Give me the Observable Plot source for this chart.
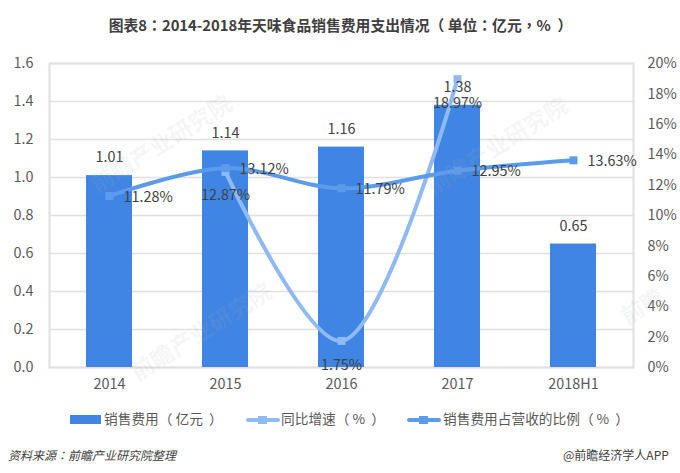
<!DOCTYPE html>
<html><head><meta charset="utf-8">
<script src="https://cdn.jsdelivr.net/npm/d3@7"></script>
<script src="https://cdn.jsdelivr.net/npm/@observablehq/plot@0.6"></script>
<style>
html,body{margin:0;padding:0;background:#fff;overflow:hidden}
body{width:680px;height:473px;position:relative;font-family:"Noto Sans CJK SC","Noto Sans",sans-serif;color:#595959}
#title{height:50px;line-height:49px;text-align:center;font-size:14.8px;font-weight:700;color:#404040;box-sizing:border-box;padding-left:1px;white-space:nowrap}
#chart svg{display:block}
.lg{position:absolute;font-size:13.7px;line-height:20px;top:408px;white-space:nowrap}
.sw{position:absolute}
.foot{position:absolute;top:446px;font-size:12px;line-height:18px;white-space:nowrap;color:#404040}
.wm{position:absolute;font-size:23px;font-weight:700;color:rgba(170,175,185,.12);transform:rotate(-32deg);transform-origin:left center;white-space:nowrap;pointer-events:none}
.pl{margin-right:.22em}
.pr{margin-left:.45em}
.pc{font-family:"Noto Sans CJK TC"}
</style></head><body>
<div id="title"></div>
<div id="chart"></div>
<div class="wm" style="left:92px;top:168px">前瞻产业研究院</div>
<div class="wm" style="left:132px;top:356px">前瞻产业研究院</div>
<div class="wm" style="left:428px;top:170px">前瞻产业研究院</div>
<div class="wm" style="left:622px;top:300px">前瞻</div>
<div class="sw" style="left:70px;top:415px;width:31px;height:9px;background:#4085e3"></div>
<div class="lg" style="left:104px" id="l1"></div>
<div class="sw" style="left:246px;top:418px;width:34px;height:4px;border-radius:2px;background:#8fbaf5"></div>
<div class="sw" style="left:258px;top:416px;width:9px;height:8px;background:#8fbaf5"></div>
<div class="lg" style="left:281px" id="l2"></div>
<div class="sw" style="left:407px;top:418px;width:34px;height:4px;border-radius:2px;background:#5b9bec"></div>
<div class="sw" style="left:419px;top:416px;width:9px;height:8px;background:#5b9bec"></div>
<div class="lg" style="left:443px" id="l3"></div>
<div class="foot" style="left:8px;font-style:italic" id="src"></div>
<div class="foot" style="left:563px" id="app"></div>
<script>
const titleText = "图表8：2014-2018年天味食品销售费用支出情况（单位：亿元，%）";
const legendNames = ["销售费用（亿元）", "同比增速（%）", "销售费用占营收的比例（%）"];
const sourceText = "资料来源：前瞻产业研究院整理";
const appText = "@前瞻经济学人APP";
const categories = ["2014", "2015", "2016", "2017", "2018H1"];
const sales = [1.01, 1.14, 1.16, 1.38, 0.65];
const yoy = [null, 12.87, 1.75, 18.97, null];
const ratio = [11.28, 13.12, 11.79, 12.95, 13.63];
const leftTicks = [0, 0.2, 0.4, 0.6, 0.8, 1.0, 1.2, 1.4, 1.6];
const rightTicks = [0, 2, 4, 6, 8, 10, 12, 14, 16, 18, 20];

const fill = (id, text) => {
  const el = document.getElementById(id);
  el.textContent = "";
  for (const part of text.split(/([（）：，])/)) {
    if (!part) continue;
    const cls = {"（": "pl", "）": "pr", "：": "pc", "，": "pc"}[part];
    if (cls) { const s = document.createElement("span"); s.className = cls; s.textContent = part; el.append(s); }
    else el.append(part);
  }
};
fill("title", titleText);
["l1","l2","l3"].forEach((id,i)=>fill(id, legendNames[i]));
fill("src", sourceText);
fill("app", appText);

const k = 1.6 / 20;
const salesRows = categories.map((c,i)=>({c, v:sales[i]}));
const ratioRows = categories.map((c,i)=>({c, v:ratio[i]}));
const yoyRows = categories.map((c,i)=>({c, v:yoy[i]})).filter(d=>d.v!=null);
const yP = d => d.v * k;
const pct = d => d.v.toFixed(2) + "%";
const cBar = "#4085e3", cYoy = "#8fbaf5", cRatio = "#5b9bec", cGrid = "#e0e0e0";
const font = 14.4;

const plot = Plot.plot({
  width: 680, height: 350,
  marginLeft: 49, marginRight: 47, marginTop: 13, marginBottom: 33,
  style: {fontFamily: '"Noto Sans CJK SC","Noto Sans",sans-serif', background: "#fff", overflow: "visible"},
  x: {type: "band", domain: categories, paddingInner: 0.6, paddingOuter: 0.3, label: null},
  y: {domain: [0, 1.6], label: null},
  marks: [
    Plot.ruleY(leftTicks, {stroke: cGrid, strokeWidth: 1.5}),
    Plot.frame({stroke: cGrid, strokeWidth: 2}),
    Plot.axisY(leftTicks, {anchor: "left", tickSize: 0, tickPadding: 16, fontSize: font, fill: "#595959", label: null, tickFormat: d => d.toFixed(1)}),
    Plot.axisY(rightTicks.map(t => t * k), {anchor: "right", tickSize: 0, tickPadding: 14, fontSize: font, fill: "#595959", label: null, textAnchor: "start", tickFormat: d => Math.round(d / k) + "%"}),
    Plot.axisX({tickSize: 0, tickPadding: 11, fontSize: font, fill: "#595959", label: null}),
    Plot.barY(salesRows, {x: "c", y: "v", fill: cBar}),
    Plot.line(yoyRows, {x: "c", y: yP, stroke: cYoy, strokeWidth: 4, curve: "catmull-rom"}),
    Plot.dot(yoyRows, {x: "c", y: yP, symbol: "square", r: 4.5, fill: cYoy}),
    Plot.line(ratioRows, {x: "c", y: yP, stroke: cRatio, strokeWidth: 4, curve: "catmull-rom"}),
    Plot.dot(ratioRows, {x: "c", y: yP, symbol: "square", r: 4.5, fill: cRatio}),
    Plot.text(salesRows, {x: "c", y: "v", text: d => d.v.toFixed(2), dy: -18, fontSize: font, fill: "#404040"}),
    Plot.text(ratioRows, {x: "c", y: yP, text: pct, textAnchor: "start", dx: 14, dy: 1, fontSize: font, fill: "#404040"}),
    Plot.text(yoyRows, {x: "c", y: yP, text: pct, dy: 24, fontSize: font, fill: "#404040"})
  ]
});
document.getElementById("chart").append(plot);
</script>
</body></html>
